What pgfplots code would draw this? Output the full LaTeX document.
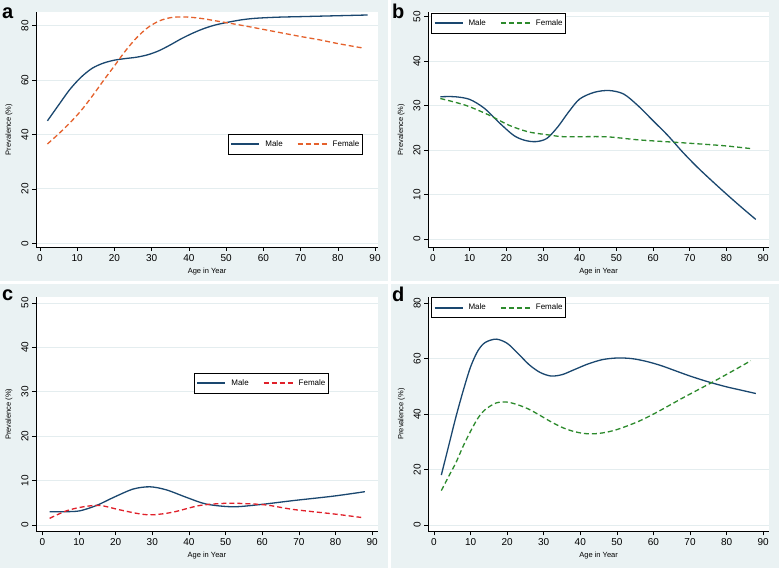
\documentclass[border=0pt]{standalone}
\usepackage{fontspec}
\setmainfont{Liberation Sans}
\usepackage{pgfplots}
\pgfplotsset{compat=1.18}
\definecolor{panelbg}{RGB}{234,242,243}
\definecolor{gridc}{RGB}{228,237,239}
\definecolor{navy}{RGB}{26,71,111}
\definecolor{sorange}{RGB}{229,97,44}
\definecolor{sgreen}{RGB}{44,138,44}
\definecolor{sred}{RGB}{224,32,42}
\pgfplotsset{
  panel/.style={
    scale only axis,
    axis x line*=bottom, axis y line*=left,
    axis background/.style={fill=white},
    xtick={0,10,...,90},
    tick align=outside,
    major tick length=4pt,
    tick style={black, line width=0.6pt},
    axis line style={black, line width=0.6pt},
    ymajorgrids, grid style={color=gridc, line width=0.8pt},
    /pgf/number format/assume math mode=true,
    tick label style={font=\fontsize{10}{12}\selectfont},
    yticklabel style={rotate=90, anchor=south},
    xlabel={Age in Year}, ylabel={Prevalence (\%)},
    every axis x label/.style={at={(axis description cs:0.5,-0.105)}, anchor=center, font=\fontsize{7.5}{9}\selectfont},
    every axis y label/.style={at={(axis description cs:-0.079,0.5)}, rotate=90, anchor=center, font=\fontsize{7.5}{9}\selectfont},
    legend style={draw=black, line width=1pt, fill=white, font=\fontsize{8}{10}\selectfont,
      legend columns=2, /tikz/every even column/.append style={column sep=11pt},
      inner xsep=1pt, inner ysep=4.5pt, anchor=north west, cells={anchor=west}},
  },
  male/.style={navy, line width=1.3pt, smooth},
  fem/.style={#1, line width=1.3pt, smooth, dash pattern=on 5pt off 3pt},
}
\newcommand{\solidrule}{\textcolor{navy}{\rule[1.3pt]{28pt}{2.1pt}}}
\newcommand{\dashrule}[1]{\textcolor{#1}{\rule[1.3pt]{5pt}{2.1pt}\hspace{3pt}\rule[1.3pt]{5pt}{2.1pt}\hspace{3pt}\rule[1.3pt]{5pt}{2.1pt}\hspace{3pt}\rule[1.3pt]{5pt}{2.1pt}}}
\newcommand{\leg}[1]{%
  \addlegendimage{empty legend}
  \addlegendentry{\solidrule\hspace{6pt}Male}
  \addlegendimage{empty legend}
  \addlegendentry{\dashrule{#1}\hspace{6pt}Female}}
\begin{document}
\begin{tikzpicture}
\fill[white] (0,0) rectangle (779pt,568pt);
\useasboundingbox (0,0) rectangle (779pt,568pt);
\fill[panelbg] (0,287pt) rectangle (388pt,568pt);
\fill[panelbg] (391pt,287pt) rectangle (779pt,568pt);
\fill[panelbg] (0,0) rectangle (388pt,284pt);
\fill[panelbg] (391pt,0) rectangle (779pt,284pt);
\node[anchor=base west, font=\bfseries\fontsize{20}{20}\selectfont, inner sep=0pt] at (2pt,549pt) {a};
\node[anchor=base west, font=\bfseries\fontsize{20}{20}\selectfont, inner sep=0pt] at (392pt,549pt) {b};
\node[anchor=base west, font=\bfseries\fontsize{20}{20}\selectfont, inner sep=0pt] at (2pt,267pt) {c};
\node[anchor=base west, font=\bfseries\fontsize{20}{20}\selectfont, inner sep=0pt] at (392pt,266pt) {d};

% Panel a
\begin{axis}[panel, at={(36pt,321pt)}, anchor=south west, width=342pt, height=235pt,
  xmin=-1.07, xmax=90.8, ymin=-1.36, ymax=85, ytick={0,20,...,80},
  legend style={at={(axis description cs:0.561,0.481)}}]
\leg{sorange}
\addplot[male, forget plot] coordinates {(2,45) (5,50.8) (8,56.5) (11,61) (14,64.3) (17,66.2) (20,67.3) (23,67.9) (26,68.4) (29,69.3) (32,70.8) (35,72.9) (38,75.2) (41,77.2) (44,78.9) (47,80.2) (50,81.1) (54,82.1) (58,82.7) (64,83.1) (70,83.3) (76,83.5) (82,83.7) (88,83.9)};
\addplot[fem=sorange, forget plot] coordinates {(2,36.5) (5,40.2) (8,44.2) (11,48.7) (14,54) (17,59.7) (20,65.2) (23,70.8) (26,75.6) (29,79.3) (32,81.7) (35,82.9) (38,83.2) (41,83) (44,82.5) (47,81.8) (50,81.1) (55,79.9) (60,78.6) (65,77.3) (70,76.0) (75,74.8) (80,73.4) (87,71.7)};
\end{axis}

% Panel b
\begin{axis}[panel, at={(428pt,321pt)}, anchor=south west, width=341pt, height=235pt,
  xmin=-1.36, xmax=91.6, ymin=-1.8, ymax=51.06, ytick={0,10,...,50},
  legend style={at={(axis description cs:0.009,0.996)}}]
\leg{sgreen}
\addplot[male, forget plot] coordinates {(2,32.0) (6,32.0) (10,31.4) (14,29.4) (18,26.2) (22,23.3) (25,22.2) (28,21.9) (31,22.6) (34,25.2) (37,28.6) (40,31.5) (44,33.0) (48,33.4) (52,32.6) (56,29.9) (60,26.6) (64,23.3) (68,19.6) (72,16.2) (76,13.1) (80,10.1) (84,7.2) (88,4.4)};
\addplot[fem=sgreen, forget plot] coordinates {(2,31.6) (8.8,30.1) (15.2,27.9) (20.7,25.6) (26,24.1) (31.6,23.4) (36,23.0) (47,23.0) (56,22.3) (67,21.7) (79,21.0) (87,20.3)};
\end{axis}

% Panel c
\begin{axis}[panel, at={(36pt,36.7pt)}, anchor=south west, width=341.7pt, height=234.3pt,
  xmin=-1.72, xmax=91.5, ymin=-1.42, ymax=51.35, ytick={0,10,...,50},
  legend style={at={(axis description cs:0.462,0.676)}}]
\leg{sred}
\addplot[male, forget plot] coordinates {(2,3.0) (6.6,3.0) (10.3,3.2) (14.8,4.4) (19.4,6.2) (24.8,8.1) (29.4,8.6) (33.9,7.9) (39.4,6.2) (44.8,4.7) (52,4.1) (59.4,4.6) (68.5,5.5) (79.4,6.5) (88,7.5)};
\addplot[fem=sred, forget plot] coordinates {(2,1.5) (6.6,3.2) (11.2,4.1) (15.7,4.4) (21.2,3.4) (26.6,2.5) (30.3,2.3) (35.7,2.9) (43,4.4) (50.3,4.9) (55.7,4.8) (61.2,4.5) (68.5,3.5) (79.4,2.5) (87,1.7)};
\end{axis}

% Panel d
\begin{axis}[panel, at={(428.3pt,36.7pt)}, anchor=south west, width=340.7pt, height=234.6pt,
  xmin=-1.56, xmax=91.6, ymin=-2.27, ymax=82.3, ytick={0,20,...,80},
  legend style={at={(axis description cs:0.008,0.998)}}]
\leg{sgreen}
\addplot[male, forget plot] coordinates {(2,18) (4,28.5) (6,39) (8,48.5) (10,57) (12,62.8) (14,65.8) (17,67) (20,65.5) (23,61.8) (26,57.8) (29,55) (32,53.7) (35,54.2) (38,55.8) (42,58) (46,59.6) (50,60.2) (54,60) (58,59) (62,57.5) (66,55.6) (70,53.7) (75,51.6) (80,49.8) (84,48.6) (88,47.4)};
\addplot[fem=sgreen, forget plot] coordinates {(2,12.4) (4,17.5) (6,22.5) (8,28.5) (10,33.8) (12,38.5) (14,41.6) (17,44) (20,44.3) (23,43.3) (26,41.7) (29,39.5) (32,37.2) (35,35.2) (38,33.8) (41,33) (44,32.9) (47,33.4) (50,34.4) (53,35.8) (56,37.4) (59,39.3) (62,41.4) (65,43.6) (68,45.8) (71,47.9) (74,50.0) (77,52.1) (80,54.3) (83,56.5) (86.6,59.2)};
\end{axis}
\end{tikzpicture}
\end{document}
